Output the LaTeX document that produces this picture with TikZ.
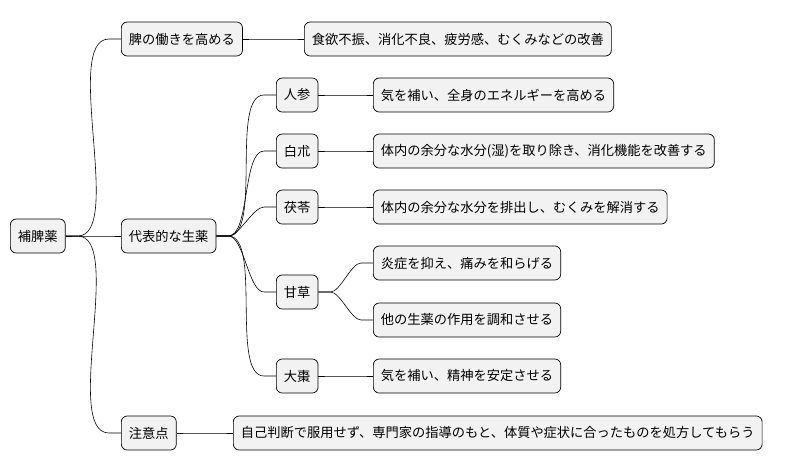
\documentclass[tikz,border=0pt]{standalone}
\usepackage{fontspec}
\setmainfont{Noto Sans CJK JP}
\usetikzlibrary{positioning}
\tikzset{
  topic/.style={draw=black, fill=black!5, rounded corners=5pt, line width=0.6pt,
    minimum height=1.02cm, inner xsep=6.5pt, anchor=west, font=\fontsize{11.3}{13}\selectfont},
  link/.style={draw=black, line width=0.5pt},
}
\begin{document}
\begin{tikzpicture}[x=0.03cm, y=-0.03cm]
        \useasboundingbox (0,0) rectangle (810,471);

        \node[topic] (root) at (10,236) {補脾薬};

        \node[topic] (spleen) at (121,39) {脾の働きを高める};
        \node[topic] (spleenA) at (304,39) {食欲不振、消化不良、疲労感、むくみなどの改善};

        \node[topic] (herbs) at (121,236) {代表的な生薬};
        \node[topic] (ninjin) at (276,95) {人参};
        \node[topic] (ninjinA) at (373,95) {気を補い、全身のエネルギーを高める};
        \node[topic] (byaku) at (276,151) {白朮};
        \node[topic] (byakuA) at (373,151) {体内の余分な水分(湿)を取り除き、消化機能を改善する};
        \node[topic] (bukuryo) at (276,207) {茯苓};
        \node[topic] (bukuryoA) at (373,207) {体内の余分な水分を排出し、むくみを解消する};
        \node[topic] (kanzo) at (276,292) {甘草};
        \node[topic] (kanzoA) at (373,263) {炎症を抑え、痛みを和らげる};
        \node[topic] (kanzoB) at (373,320) {他の生薬の作用を調和させる};
        \node[topic] (taiso) at (276,376) {大棗};
        \node[topic] (taisoA) at (373,376) {気を補い、精神を安定させる};

        \node[topic] (caution) at (121,433) {注意点};
        \node[topic] (cautionA) at (233,433) {自己判断で服用せず、専門家の指導のもと、体質や症状に合ったものを処方してもらう};

        % branches
        \foreach \a/\b in {root/spleen, root/herbs, root/caution, spleen/spleenA,
            herbs/ninjin, herbs/byaku, herbs/bukuryo, herbs/kanzo, herbs/taiso,
            ninjin/ninjinA, byaku/byakuA, bukuryo/bukuryoA, kanzo/kanzoA,
            kanzo/kanzoB, taiso/taisoA, caution/cautionA}
          \draw[link] (\a.east) -- ++(12,0) to[out=0, in=180, looseness=0.6] ([xshift=-0.36cm]\b.west) -- (\b.west);
\end{tikzpicture}
\end{document}
